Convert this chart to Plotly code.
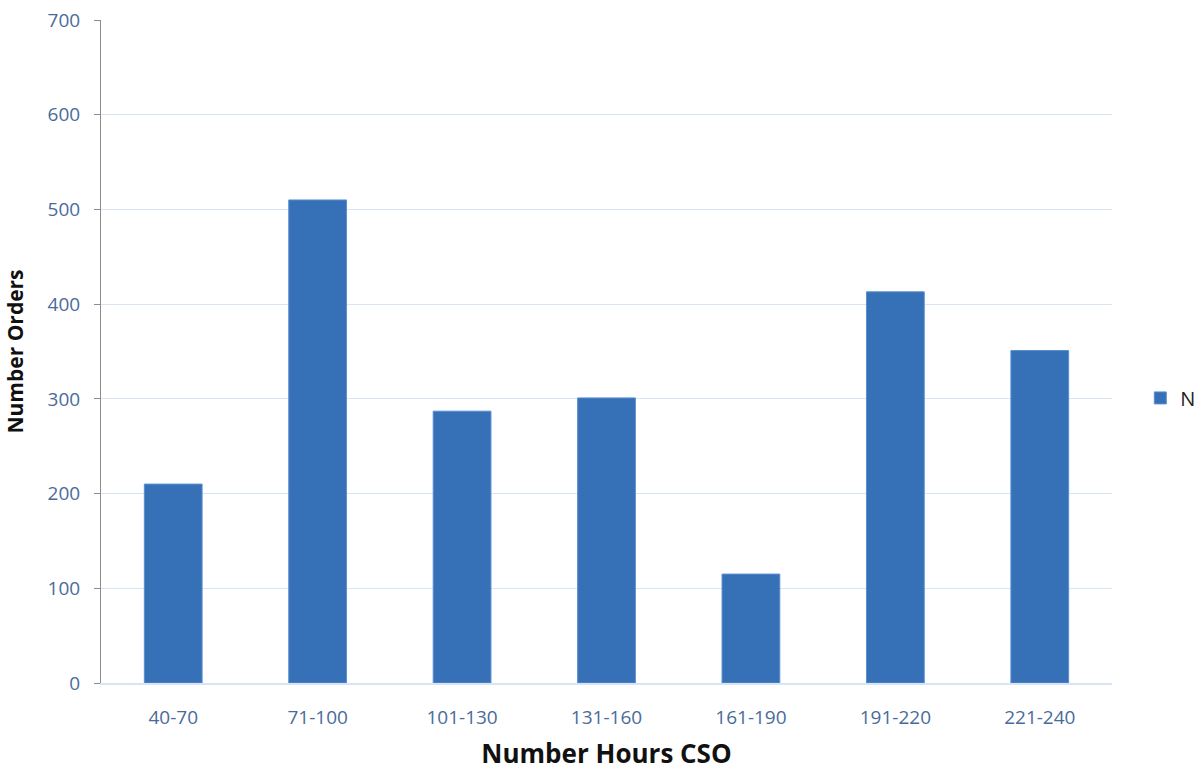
import plotly.graph_objects as go

# Order counts per CSO hour band
hour_bands = ["40-70", "71-100", "101-130", "131-160", "161-190", "191-220", "221-240"]
order_counts = [210, 510, 287, 301, 115, 413, 351]
y_ticks = [0, 100, 200, 300, 400, 500, 600, 700]

tick_color = "#4a6b9a"
grid_color = "#d8e4f3"

fig = go.Figure()
fig.add_trace(go.Bar(
    x=hour_bands,
    y=order_counts,
    name="N",
    marker=dict(color="#3670b6", line=dict(color="#5a8fd0", width=1)),
))

fig.update_layout(
    width=1202,
    height=771,
    margin=dict(l=101, r=90, t=20, b=88, autoexpand=False),
    paper_bgcolor="white",
    plot_bgcolor="white",
    bargap=0.6,
    font=dict(family="Open Sans, sans-serif", size=19, color=tick_color),
    showlegend=True,
    legend=dict(
        x=1.028, y=0.43, xanchor="left", yanchor="middle",
        font=dict(size=20, color="#222222"),
        itemwidth=30,
    ),
    xaxis=dict(
        title=dict(text="<b>Number Hours CSO</b>", font=dict(size=26, color="#111111"), standoff=24),
        showgrid=False,
        showline=True,
        linecolor=grid_color,
        linewidth=2,
        ticks="",
        tickfont=dict(size=19, color=tick_color),
        ticklabelstandoff=16,
    ),
    yaxis=dict(
        title=dict(text="<b>Number Orders</b>", font=dict(size=21, color="#111111"), standoff=18),
        range=[0, 700],
        tickvals=y_ticks,
        showgrid=True,
        gridcolor=grid_color,
        gridwidth=1,
        zeroline=False,
        showline=True,
        linecolor="#8c8c8c",
        linewidth=1,
        ticks="outside",
        ticklen=6,
        tickcolor="#8c8c8c",
        tickfont=dict(size=19, color=tick_color),
        ticklabelstandoff=10,
    ),
)

fig.write_html("out.html")
